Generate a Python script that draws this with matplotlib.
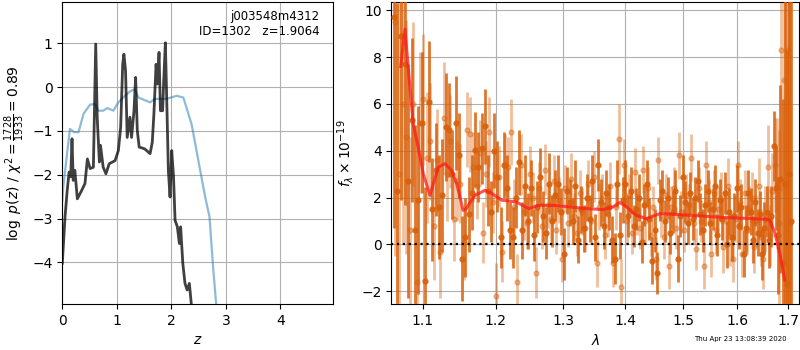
import numpy as np
import matplotlib
matplotlib.use("Agg")
import matplotlib.pyplot as plt
from matplotlib.ticker import NullLocator, FixedLocator, FixedFormatter

# ---------------- left panel: p(z) ----------------
z_prior = [0.0, 0.018, 0.08, 0.14, 0.217, 0.297, 0.39, 0.51, 0.60, 0.66, 0.75, 0.826, 0.936,
           1.028, 1.15, 1.24, 1.33, 1.395, 1.61, 1.70, 1.91, 2.10, 2.22, 2.37, 2.62, 2.70, 2.76, 2.82, 2.86]
logp_prior = [-2.6, -2.28, -1.6, -0.955, -1.03, -1.03, -0.61, -0.40, -0.39, -0.54, -0.54, -0.48, -0.54,
              -0.35, -0.20, -0.10, -0.05, -0.24, -0.35, -0.27, -0.27, -0.20, -0.24, -0.84, -2.51, -2.96, -4.02, -4.93, -5.6]

z_pdf = [0.0, 0.05, 0.09, 0.125, 0.155, 0.178, 0.20, 0.23, 0.276, 0.355, 0.416, 0.46, 0.51, 0.57,
         0.613, 0.64, 0.68, 0.70, 0.75, 0.80, 0.86, 0.967, 1.028, 1.07, 1.108, 1.13, 1.16, 1.19,
         1.24, 1.27, 1.315, 1.345, 1.375, 1.41, 1.51, 1.61, 1.65, 1.68, 1.72, 1.745, 1.774, 1.80,
         1.84, 1.86, 1.89, 1.92, 1.945, 1.976, 2.007, 2.04, 2.068, 2.11, 2.147, 2.17, 2.21, 2.25,
         2.29, 2.33, 2.37, 2.40]
logp_pdf = [-4.02, -2.96, -2.36, -1.94, -2.05, -1.18, -2.13, -1.90, -2.55, -2.36, -2.20, -1.64, -1.86, -1.83,
            0.98, -0.69, -1.71, -1.33, -1.83, -1.98, -1.75, -1.68, -1.45, -0.92, 0.52, 0.75, 0.37, -1.15,
            -0.69, -1.15, -0.54, 0.22, -0.99, -1.37, -1.41, -1.52, -1.26, -0.61, 0.52, 0.07, 0.79, -0.54,
            -0.54, 0.14, 1.01, -0.54, -1.90, -2.51, -1.45, -2.05, -3.04, -3.19, -3.57, -3.19, -4.02, -4.48,
            -4.63, -4.48, -5.0, -5.4]

z_ticks = [0, 1, 2, 3, 4]
logp_ticks = [-4, -3, -2, -1, 0, 1]
label_lines = ["j003548m4312", "ID=1302   z=1.9064"]

# ---------------- right panel: spectrum ----------------
wave_a = [1.0630, 1.0675, 1.0720, 1.0765, 1.0810, 1.0855, 1.0900, 1.0945, 1.0990, 1.1035,
          1.1080, 1.1125, 1.1170, 1.1215, 1.1260, 1.1305, 1.1350, 1.1395, 1.1440, 1.1485,
          1.1530, 1.1575, 1.1620, 1.1665, 1.1710, 1.1755, 1.1800, 1.1845, 1.1890, 1.1935,
          1.1980, 1.2025, 1.2070, 1.2115, 1.2160, 1.2205, 1.2250, 1.2295, 1.2340, 1.2385,
          1.2430, 1.2475, 1.2520, 1.2565, 1.2610, 1.2655, 1.2700, 1.2745, 1.2790, 1.2835,
          1.2880, 1.2925, 1.2970, 1.3015, 1.3060, 1.3105, 1.3150, 1.3195, 1.3240, 1.3285,
          1.3330, 1.3375, 1.3420, 1.3465, 1.3510, 1.3555, 1.3600, 1.3645, 1.3690, 1.3735,
          1.3780, 1.3825, 1.3870, 1.3915, 1.3960, 1.4005, 1.4050, 1.4095, 1.4140, 1.4185,
          1.4230, 1.4275, 1.4320, 1.4365, 1.4410, 1.4455, 1.4500, 1.4545, 1.4590, 1.4635,
          1.4680, 1.4725, 1.4770, 1.4815, 1.4860, 1.4905, 1.4950, 1.4995, 1.5040, 1.5085,
          1.5130, 1.5175, 1.5220, 1.5265, 1.5310, 1.5355, 1.5400, 1.5445, 1.5490, 1.5535,
          1.5580, 1.5625, 1.5670, 1.5715, 1.5760, 1.5805, 1.5850, 1.5895, 1.5940, 1.5985,
          1.6030, 1.6075, 1.6120, 1.6165, 1.6210, 1.6255, 1.6300, 1.6345, 1.6390, 1.6435,
          1.6480, 1.6525, 1.6570, 1.6615, 1.6660, 1.6705, 1.6750, 1.6795, 1.6840, 1.6885,
          1.6930, 1.6975, 1.7020, 1.7065]
flux_a = [9.7, 2.3, 8.9, 7.7, 2.7, 5.3, 0.6, 1.9, 5.2, -1.55,
          6.1, 1.5, 3.2, 1.6, 2.1, 5.0, 4.9, 3.0, 5.2, 3.8,
          -0.6, 0.3, 1.3, 2.2, 4.05, 3.3, 4.1, 5.05, 2.3, 1.4,
          4.0, 2.9, 0.3, 3.4, 2.4, 0.6, 0.3, 2.0, 3.5, 0.6,
          2.5, 1.0, 2.4, 0.4, 1.6, 2.9, 1.2, 0.5, 2.6, 1.0,
          2.1, 2.6, 1.4, -0.4, 2.3, 1.8, 1.0, 2.5, 0.2, 1.5,
          0.7, 2.0, 1.1, 2.7, 0.3, 3.4, 1.8, 0.8, 2.2, 1.6,
          0.2, -0.6, 2.6, 0.4, 1.9, 2.6, 1.2, 2.3, 0.8, 1.5,
          2.0, 0.1, 1.7, 2.6, 1.1, -0.7, 0.6, -1.2, 1.9, 2.3,
          1.0, 2.0, 0.5, 1.4, 2.3, -0.6, 1.2, 2.9, 1.8, 0.9,
          2.2, 1.1, 2.0, 2.7, 1.3, 0.6, 1.7, 2.3, 0.9, 1.5,
          2.5, 0.4, 1.9, 1.1, 2.2, 0.0, 1.4, 0.3, 1.2, 2.4,
          0.8, 1.6, -0.4, 0.7, 2.2, 1.4, 0.2, 1.8, 0.5, 1.3,
          -0.4, 0.7, 1.4, 0.2, 1.2, 4.2, 2.4, 0.4, 2.8, -0.8,
          2.6, -1.7, 3.0, 1.0]
err_a = [9.0, 8.0, 7.0, 6.0, 5.0, 3.5, 4.5, 4.0, 3.0, 4.0,
         2.6, 2.2, 2.0, 2.2, 2.4, 2.3, 2.0, 1.9, 2.0, 1.8,
         1.8, 1.7, 1.6, 1.6, 1.6, 1.5, 1.5, 1.6, 1.5, 1.3,
         1.6, 1.5, 1.3, 1.4, 1.4, 1.2, 1.3, 1.3, 1.4, 1.2,
         1.3, 1.2, 1.2, 1.1, 1.1, 1.2, 1.1, 1.1, 1.3, 1.1,
         1.1, 1.2, 1.0, 1.1, 1.0, 1.0, 1.0, 1.1, 1.0, 1.0,
         1.0, 1.0, 1.0, 1.1, 1.0, 1.1, 1.0, 1.0, 1.0, 1.0,
         1.0, 1.1, 1.0, 1.0, 1.0, 1.0, 0.9, 1.0, 0.9, 0.9,
         1.0, 0.9, 0.9, 1.0, 0.9, 1.0, 0.9, 0.9, 0.9, 0.9,
         0.9, 0.9, 0.9, 0.9, 0.9, 1.0, 0.9, 0.9, 0.9, 0.9,
         0.9, 0.9, 0.9, 0.9, 0.9, 0.9, 0.9, 0.9, 0.9, 0.9,
         0.9, 0.9, 0.9, 0.9, 0.9, 1.0, 1.0, 1.0, 1.0, 1.0,
         1.0, 1.0, 1.0, 1.0, 1.0, 1.0, 1.0, 1.0, 1.0, 1.0,
         1.1, 1.1, 1.1, 1.2, 1.3, 1.5, 1.8, 2.5, 4.0, 7.0,
         9.0, 10.0, 12.0, 14.0]

wave_b = [1.0650, 1.0695, 1.0740, 1.0785, 1.0830, 1.0875, 1.0920, 1.0965, 1.1010, 1.1055,
          1.1100, 1.1145, 1.1190, 1.1235, 1.1280, 1.1325, 1.1370, 1.1415, 1.1460, 1.1505,
          1.1550, 1.1595, 1.1640, 1.1685, 1.1730, 1.1775, 1.1820, 1.1865, 1.1910, 1.1955,
          1.2000, 1.2045, 1.2090, 1.2135, 1.2180, 1.2225, 1.2270, 1.2315, 1.2360, 1.2405,
          1.2450, 1.2495, 1.2540, 1.2585, 1.2630, 1.2675, 1.2720, 1.2765, 1.2810, 1.2855,
          1.2900, 1.2945, 1.2990, 1.3035, 1.3080, 1.3125, 1.3170, 1.3215, 1.3260, 1.3305,
          1.3350, 1.3395, 1.3440, 1.3485, 1.3530, 1.3575, 1.3620, 1.3665, 1.3710, 1.3755,
          1.3800, 1.3845, 1.3890, 1.3935, 1.3980, 1.4025, 1.4070, 1.4115, 1.4160, 1.4205,
          1.4250, 1.4295, 1.4340, 1.4385, 1.4430, 1.4475, 1.4520, 1.4565, 1.4610, 1.4655,
          1.4700, 1.4745, 1.4790, 1.4835, 1.4880, 1.4925, 1.4970, 1.5015, 1.5060, 1.5105,
          1.5150, 1.5195, 1.5240, 1.5285, 1.5330, 1.5375, 1.5420, 1.5465, 1.5510, 1.5555,
          1.5600, 1.5645, 1.5690, 1.5735, 1.5780, 1.5825, 1.5870, 1.5915, 1.5960, 1.6005,
          1.6050, 1.6095, 1.6140, 1.6185, 1.6230, 1.6275, 1.6320, 1.6365, 1.6410, 1.6455,
          1.6500, 1.6545, 1.6590, 1.6635, 1.6680, 1.6725, 1.6770, 1.6815, 1.6860, 1.6905,
          1.6950, 1.6995, 1.7040]
flux_b = [9.5, 3.0, 6.0, 4.6, 0.6, 6.0, -1.6, 5.2, 6.2, 3.7,
          4.4, 0.8, 3.6, -0.3, 5.4, 3.0, 4.4, 1.1, 2.7, 2.6,
          0.1, 4.9, 4.7, 3.3, 2.5, 3.9, 0.5, 3.0, 4.8, 1.8,
          -2.2, 2.9, -0.3, 3.4, 3.3, 4.8, 1.6, -1.6, 3.4, 1.4,
          0.9, 3.0, 2.0, -1.2, 2.4, 0.8, 3.2, 1.7, 1.1, 2.7,
          0.6, 1.9, -0.6, 2.4, 0.9, 2.8, 1.2, 0.5, 2.2, 1.4,
          0.7, 2.6, 1.0, 2.9, -0.8, 1.6, 2.0, 0.4, 1.3, 2.5,
          -0.8, 1.6, 4.5, -1.8, 3.4, 1.0, 2.1, 0.5, 3.1, 1.3,
          0.7, 3.2, 1.0, 2.4, 0.4, 1.6, -0.6, 3.6, 1.2, 0.3,
          2.1, -0.9, 1.6, 2.4, 0.7, 3.8, 1.4, 0.6, 2.1, 1.7,
          3.7, 0.9, -0.2, 2.4, 1.0, -0.9, 3.4, 1.8, -0.4, 2.2,
          0.6, 1.5, 2.0, -0.1, 1.0, 2.5, 0.3, -0.6, 1.1, 3.4,
          1.8, -0.4, 2.2, 0.6, 1.5, 2.0, -0.1, 1.0, 2.5, 0.3,
          -0.6, 1.1, 3.3, 0.4, 2.3, 3.4, 2.6, 0.9, 8.3, 7.0,
          2.5, 8.3, 0.9]
err_b = [10.0, 8.0, 6.0, 5.0, 4.0, 3.5, 3.5, 3.0, 2.8, 2.8,
         2.5, 2.3, 2.2, 2.0, 2.4, 2.0, 2.0, 1.8, 1.7, 1.7,
         1.6, 1.6, 1.6, 1.5, 1.4, 1.4, 1.3, 1.4, 1.5, 1.3,
         1.4, 1.3, 1.3, 1.3, 1.3, 1.4, 1.2, 1.2, 1.3, 1.2,
         1.1, 1.2, 1.1, 1.1, 1.1, 1.0, 1.1, 1.0, 1.0, 1.1,
         1.0, 1.0, 1.0, 1.0, 1.0, 1.1, 1.0, 1.0, 1.0, 1.0,
         1.0, 1.0, 1.0, 1.1, 1.0, 1.0, 1.0, 1.0, 1.0, 1.0,
         1.0, 1.0, 1.5, 1.2, 1.1, 1.0, 0.9, 0.9, 1.0, 0.9,
         0.9, 1.0, 0.9, 0.9, 0.9, 0.9, 0.9, 1.0, 0.9, 0.9,
         0.9, 1.0, 0.9, 0.9, 0.9, 1.0, 0.9, 0.9, 0.9, 0.9,
         1.0, 0.9, 0.9, 0.9, 0.9, 1.0, 1.0, 1.0, 1.0, 1.0,
         1.0, 1.0, 1.1, 1.1, 1.1, 1.2, 1.2, 1.0, 1.0, 1.0,
         1.0, 1.0, 1.0, 1.0, 1.0, 1.1, 1.1, 1.1, 1.2, 1.2,
         1.3, 1.4, 1.8, 1.3, 1.6, 2.0, 2.8, 4.0, 6.0, 8.0,
         10.0, 12.0, 14.0]

wave_model = [1.0716, 1.0771, 1.0835, 1.0878, 1.0942, 1.1008, 1.1096, 1.1206, 1.1296, 1.1386, 1.1454,
              1.1500, 1.1540, 1.1580, 1.1650, 1.1710, 1.1845, 1.1932, 1.2089, 1.2180, 1.2294, 1.2480,
              1.2622, 1.2866, 1.3373, 1.3636, 1.3797, 1.3907, 1.3990, 1.4187, 1.4358, 1.4592, 1.4829,
              1.5765, 1.6561, 1.6630, 1.6735, 1.6830, 1.6930]
flux_model = [7.6, 9.19, 6.7, 5.15, 4.15, 3.02, 2.1, 3.3, 3.45, 3.16, 2.6,
              2.03, 1.46, 1.50, 1.85, 2.1, 2.31, 2.2, 1.89, 1.86, 1.82, 1.53,
              1.67, 1.67, 1.53, 1.49, 1.6, 1.79, 1.67, 1.25, 1.1, 1.32, 1.29,
              1.15, 1.08, 1.04, 0.47, -0.38, -1.52]

wave_ticks = [1.1, 1.2, 1.3, 1.4, 1.5, 1.6, 1.7]
wave_ticklabels = ["1.1", "1.2", "1.3", "1.4", "1.5", "1.6", "1.7"]
flux_ticks = [-2, 0, 2, 4, 6, 8, 10]
timestamp = "Thu Apr 23 13:08:39 2020"

# ---------------- figure ----------------
fig = plt.figure(figsize=(8, 3.5), dpi=100)
ax1 = fig.add_axes([62.3 / 800, 1 - 304 / 350, (333.3 - 62.3) / 800, 302 / 350])
ax2 = fig.add_axes([391.3 / 800, 1 - 304 / 350, (799.3 - 391.3) / 800, 302 / 350])

ax1.plot(z_prior, logp_prior, color='#1f77b4', alpha=0.5, lw=1.6)
ax1.plot(z_pdf, logp_pdf, color='k', alpha=0.75, lw=2)
ax1.set_xlim(0, 4.97)
ax1.set_ylim(-4.95, 1.94)
ax1.set_xticks(z_ticks)
ax1.set_yticks(logp_ticks)
ax1.grid(True)
ax1.set_xlabel(r'$z$')
ax1.set_ylabel(r'$\log\ p(z)$ / $\chi^2=\frac{1728}{1933}=0.89$')
ax1.text(0.95, 0.975, "\n".join(label_lines), transform=ax1.transAxes,
         ha='right', va='top', fontsize=8.5)

col = '#d9600a'
ax2.errorbar(wave_b, flux_b, yerr=err_b, fmt='o', color=col, ecolor=col, alpha=0.4,
             markersize=3.5, elinewidth=2.0, capsize=0, zorder=2)
ax2.errorbar(wave_a, flux_a, yerr=err_a, fmt='o', color=col, ecolor=col, alpha=0.85,
             markersize=3.5, elinewidth=2.0, capsize=0, zorder=3)
ax2.plot(wave_model, flux_model, color='#ff1a1a', alpha=0.75, lw=2.2, zorder=5)
ax2.axhline(0, color='k', ls=':', lw=1.6, zorder=6)
ax2.set_xscale('log')
ax2.set_xlim(1.0597, 1.7225)
ax2.set_ylim(-2.54, 10.35)
ax2.xaxis.set_major_locator(FixedLocator(wave_ticks))
ax2.xaxis.set_major_formatter(FixedFormatter(wave_ticklabels))
ax2.xaxis.set_minor_locator(NullLocator())
ax2.set_yticks(flux_ticks)
ax2.grid(True)
ax2.set_xlabel(r'$\lambda$')
ax2.set_ylabel(r'$f_\lambda\times10^{-19}$')

fig.text(786.7 / 800, 1 - 339.3 / 350, timestamp, ha='right', va='center', fontsize=5)

fig.savefig('out.png', dpi=100)
